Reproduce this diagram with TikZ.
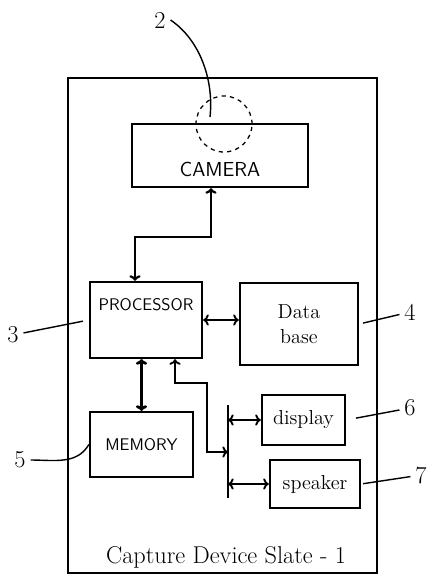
\documentclass[tikz,border=0pt]{standalone}
\usepackage{tikz}
\usetikzlibrary{arrows.meta, positioning, shapes.geometric}

\begin{document}
\begin{tikzpicture}[
        x=0.025cm, y=-0.025cm,
        box/.style={
            rectangle,
            draw=black,
            line width=1.6pt,
            inner sep=2pt,
            align=center,
            font=\sffamily\large
        },
        handtext/.style={font=\Large},
        num/.style={font=\LARGE},
        arrow/.style={
            <->,
            >={To[length=4pt, width=8pt]},
            line width=1.3pt
        },
        leader/.style={line width=1pt}
    ]
    \useasboundingbox (0,0) rectangle (427,578);

    % Slate outline and caption
    \node[box, minimum width=7.725cm, minimum height=12.375cm] (slate) at (222.5,325.5) {};
    \node[font=\LARGE] (caption) at (226,557) {Capture Device Slate - 1};

    % Camera with lens
    \node[box, minimum width=4.4cm, minimum height=1.575cm,
          label={[font=\sffamily\Large, yshift=-0.35cm]center:CAMERA}] (camera) at (220,155.5) {};
    \node[circle, draw, dashed, line width=0.9pt, minimum size=1.4cm] (lens) at (224,124) {};

    % Blocks
    \node[box, minimum width=2.8cm, minimum height=1.9cm] (processor) at (146,320) {PROCESSOR\\[0.3cm]};
    \node[box, handtext, minimum width=2.95cm, minimum height=2.05cm] (database) at (299,324) {Data\\base};
    \node[box, minimum width=2.575cm, minimum height=1.625cm] (memory) at (141.5,444.5) {MEMORY};
    \node[box, handtext, minimum width=2.075cm, minimum height=1.25cm] (display) at (303.5,420) {display};
    \node[box, handtext, minimum width=2.25cm, minimum height=1.2cm] (speaker) at (315,484) {speaker};

    % Bus points
    \coordinate (camjoint) at (211,237);
    \coordinate (busjoint) at (207,383);
    \coordinate (bustop) at (228,405);
    \coordinate (busbot) at (228,498);
    \coordinate (bustap) at (228,452);
    \draw[line width=1.3pt] (bustop) -- (busbot);

    % Arrows
    \draw[arrow, line width=1.6pt] ([xshift=-0.275cm]processor.north) |- (camjoint) -- (camjoint |- camera.south);
    \draw[arrow] (processor.east) -- (processor.east -| database.west);
    \draw[arrow, line width=2pt] (memory.north |- processor.south) -- (memory.north);
    \draw[arrow] ([xshift=0.725cm]processor.south) |- (busjoint) |- (bustap);
    \draw[arrow] (bustop |- display.west) -- (display.west);
    \draw[arrow] (bustop |- speaker.west) -- (speaker.west);

    % Reference numerals
    \node[num] (two) at (160,20) {2};
    \node[num] (three) at (13,335) {3};
    \node[num] (four) at (410,312) {4};
    \node[num] (five) at (20,460) {5};
    \node[num] (six) at (410,408) {6};
    \node[num] (seven) at (421,475) {7};
    \coordinate (lenstip) at (210,117);

    \draw[leader] (two.east) .. controls (200,40) and (214,80) .. (lenstip);
    \draw[leader, shorten >=0.15cm] (three) -- (processor.west);
    \draw[leader, shorten <=0.1cm] (database.east) -- (four);
    \draw[leader] (five.east) to[out=0, in=-120] (memory.west);
    \draw[leader, shorten <=0.25cm] (display.east) -- (six);
    \draw[leader, shorten <=0.05cm] (speaker.east) -- (seven);

\end{tikzpicture}
\end{document}
